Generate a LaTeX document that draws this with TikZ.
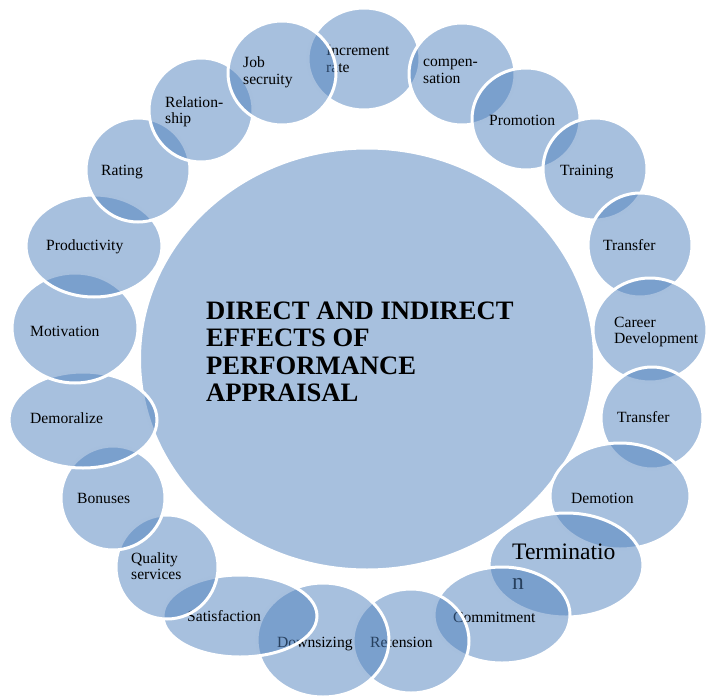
\documentclass[tikz,border=0pt]{standalone}
\usepackage{fontspec}
\setmainfont{Liberation Serif}
\usetikzlibrary{shapes.geometric}
\definecolor{accentblue}{RGB}{79,129,189}
\tikzset{
  blob/.style={ellipse, draw=white, line width=3pt, fill=accentblue,
    fill opacity=0.5, draw opacity=1, inner sep=0pt},
  sz/.style 2 args={minimum width=#1pt, minimum height=#2pt},
  % anchored at the baseline of the last line
  lbl/.style={anchor=base west, inner sep=0pt, align=left, text opacity=1,
    font=\fontsize{15.6}{16.5}\selectfont},
}
\begin{document}
\begin{tikzpicture}[x=1pt, y=-1pt]
\useasboundingbox (0,0) rectangle (711,698);

% central ellipse and title
\node[blob, sz={455}{422}] (hub) at (367,359) {};
\node[lbl, font=\fontsize{26.6}{27.5}\selectfont\bfseries] (title) at (206,401.5)
  {DIRECT AND INDIRECT\\EFFECTS OF\\PERFORMANCE\\APPRAISAL};

% ring of effects, each one laid over the one before it
\node[blob, sz={112}{102}] (inc) at (364,59) {};
\node[lbl] (incT) at (326,72.5) {Increment\\rate};
\node[blob, sz={106}{102}] (comp) at (462,74) {};
\node[lbl] (compT) at (423,83.5) {compen-\\sation};
\node[blob, sz={108}{102}] (promo) at (526,119) {};
\node[lbl] (promoT) at (489,125) {Promotion};
\node[blob, sz={104}{102}] (train) at (595,169) {};
\node[lbl] (trainT) at (560,175) {Training};
\node[blob, sz={104}{104}] (trans) at (640,245) {};
\node[lbl] (transT) at (603,250) {Transfer};
\node[blob, sz={114}{104}] (career) at (650,330) {};
\node[lbl] (careerT) at (614,343.5) {Career\\Development};
\node[blob, sz={102}{102}] (transb) at (652,418) {};
\node[lbl] (transbT) at (617,422) {Transfer};
\node[blob, sz={140}{106}] (demo) at (620,496) {};
\node[lbl] (demoT) at (571,503) {Demotion};
\node[blob, sz={154}{104}] (term) at (566,565) {};
\node[lbl, font=\fontsize{23.6}{30}\selectfont] (termT) at (512,589) {Terminatio\\n};
\node[blob, sz={136}{96}] (commit) at (502,615) {};
\node[lbl] (commitT) at (453,622) {Commitment};
\node[blob, sz={116}{104}] (ret) at (411,641) {};
\node[lbl] (retT) at (370,647) {Retension};
\node[blob, sz={132}{114}] (down) at (323,640) {};
\node[lbl] (downT) at (277,647) {Downsizing};
\node[blob, sz={154}{82}] (satis) at (240,616) {};
\node[lbl] (satisT) at (187,621) {Satisfaction};
\node[blob, sz={102}{104}] (qual) at (167,567) {};
\node[lbl] (qualT) at (131,579.5) {Quality\\services};
\node[blob, sz={104}{104}] (bonus) at (113,498) {};
\node[lbl] (bonusT) at (77,503) {Bonuses};
\node[blob, sz={148}{96}] (demor) at (83,420) {};
\node[lbl] (demorT) at (30,423) {Demoralize};
\node[blob, sz={126}{110}] (motiv) at (75,328) {};
\node[lbl] (motivT) at (30,336) {Motivation};
\node[blob, sz={136}{102}] (prod) at (94,246) {};
\node[lbl] (prodT) at (46,250) {Productivity};
\node[blob, sz={104}{104}] (rate) at (138,170) {};
\node[lbl] (rateT) at (101,175) {Rating};
\node[blob, sz={104}{104}] (rel) at (201,110) {};
\node[lbl] (relT) at (165,123.5) {Relation-\\ship};
\node[blob, sz={108}{104}] (job) at (282,73) {};
\node[lbl] (jobT) at (243,84.5) {Job\\secruity};
\end{tikzpicture}
\end{document}
